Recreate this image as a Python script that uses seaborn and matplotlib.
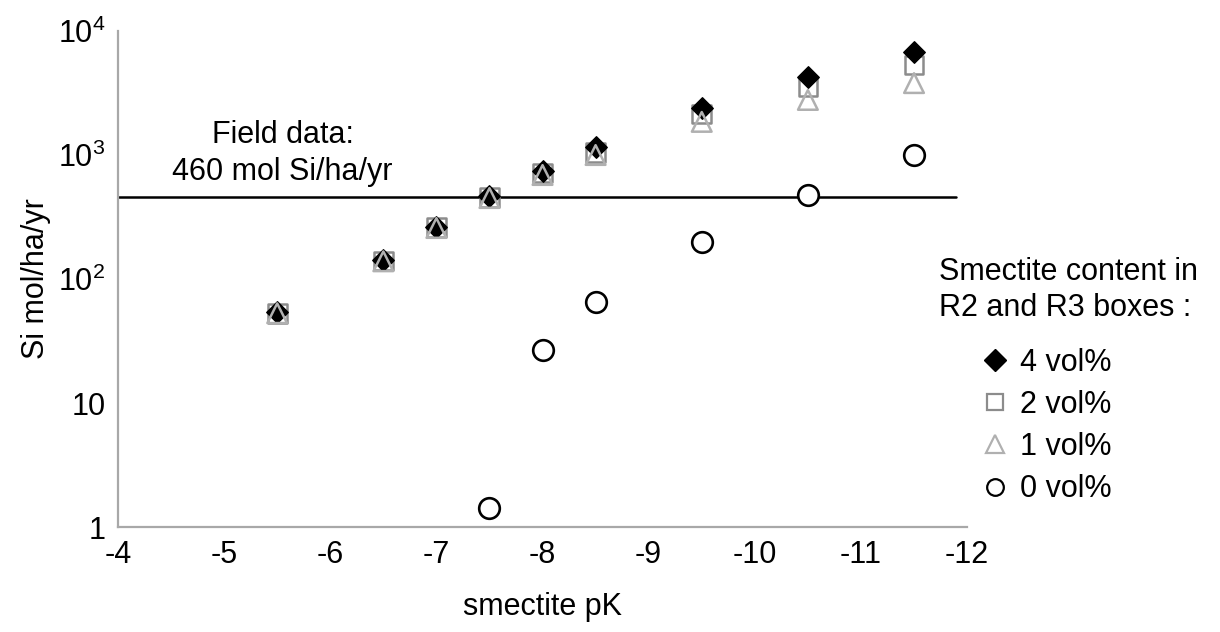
import pandas as pd
import seaborn as sns
import matplotlib.pyplot as plt
from matplotlib.lines import Line2D

# smectite pK values
pk = [-5.5, -6.5, -7.0, -7.5, -8.0, -8.5, -9.5, -10.5, -11.5]

# Si flux (mol/ha/yr) for each smectite content
si_4 = [54, 142, 263, 465, 745, 1160, 2400, 4250, 6800]
si_2 = [53, 140, 260, 455, 715, 1050, 2140, 3530, 5300]
si_1 = [53, 139, 258, 450, 690, 1000, 1850, 2780, 3800]
pk_0 = [-7.5, -8.0, -8.5, -9.5, -10.5, -11.5]
si_0 = [1.42, 27, 65, 199, 480, 1000]

field_value = 460
series_labels = ["4 vol%", "2 vol%", "1 vol%", "0 vol%"]

sns.set_style("white")
plt.rcParams["font.family"] = ["Liberation Sans", "DejaVu Sans"]
plt.rcParams["mathtext.fontset"] = "custom"
plt.rcParams["mathtext.rm"] = "Liberation Sans"
plt.rcParams["axes.unicode_minus"] = False
plt.rcParams["text.color"] = "black"
plt.rcParams["axes.labelcolor"] = "black"
plt.rcParams["xtick.color"] = "black"
plt.rcParams["ytick.color"] = "black"

df4 = pd.DataFrame({"pk": pk, "si": si_4})
df2 = pd.DataFrame({"pk": pk, "si": si_2})
df1 = pd.DataFrame({"pk": pk, "si": si_1})
df0 = pd.DataFrame({"pk": pk_0, "si": si_0})

fig = plt.figure(figsize=(12.2, 6.32), dpi=100)
ax = fig.add_axes([0.0967, 0.166, 0.696, 0.785])

ax.plot([-4, -11.9], [field_value, field_value], color="black", lw=1.8, zorder=1)

sq_c = "#8c8c8c"
tri_c = "#b0b0b0"
sns.scatterplot(data=df2, x="pk", y="si", marker="s", s=180, facecolor="none",
                edgecolor=sq_c, linewidth=1.8, ax=ax, zorder=3)
sns.scatterplot(data=df4, x="pk", y="si", marker="D", s=120, color="black",
                edgecolor="black", linewidth=1, ax=ax, zorder=4)
sns.scatterplot(data=df1, x="pk", y="si", marker="^", s=200, facecolor="none",
                edgecolor=tri_c, linewidth=1.8, ax=ax, zorder=5)
sns.scatterplot(data=df0, x="pk", y="si", marker="o", s=220, facecolor="white",
                edgecolor="black", linewidth=1.9, ax=ax, zorder=3)

ax.set_yscale("log")
ax.set_ylim(1, 1e4)
ax.set_xlim(-4, -12)
ax.set_xticks(range(-4, -13, -1))
ax.set_xticklabels([str(v) for v in range(-4, -13, -1)])
ax.set_yticks([1, 10, 100, 1000, 10000])
ax.set_yticklabels(["1", "10", r"$10^2$", r"$10^3$", r"$10^4$"])
ax.minorticks_off()

for side in ["top", "right"]:
    ax.spines[side].set_visible(False)
for side in ["left", "bottom"]:
    ax.spines[side].set_color("#a8a8a8")
    ax.spines[side].set_linewidth(1.6)
ax.tick_params(axis="both", which="major", direction="out", length=6,
               width=1.5, color="#a8a8a8", labelsize=22, pad=3)

ax.set_xlabel("smectite pK", fontsize=22)
ax.set_ylabel("Si mol/ha/yr", fontsize=22)
ax.xaxis.set_label_coords(0.5, -0.13)
ax.yaxis.set_label_coords(-0.079, 0.5)

ax.text(-5.55, 1030, "Field data:\n460 mol Si/ha/yr", ha="center", va="center",
        fontsize=22, linespacing=1.3)

handles = [
    Line2D([], [], marker="D", ls="", color="black", markersize=11),
    Line2D([], [], marker="s", ls="", markerfacecolor="none", markeredgecolor=sq_c,
           markersize=12, markeredgewidth=1.6),
    Line2D([], [], marker="^", ls="", markerfacecolor="none", markeredgecolor=tri_c,
           markersize=13, markeredgewidth=1.6),
    Line2D([], [], marker="o", ls="", markerfacecolor="white", markeredgecolor="black",
           markersize=12, markeredgewidth=1.6),
]
fig.text(0.770, 0.541, "Smectite content in\nR2 and R3 boxes :", ha="left",
         va="center", fontsize=22, linespacing=1.25)
leg = fig.legend(handles, series_labels, loc="upper left",
                 bbox_to_anchor=(0.803, 0.450), frameon=False, fontsize=22,
                 handletextpad=0.33, labelspacing=0.4, handlelength=1.0,
                 borderpad=0, borderaxespad=0)

fig.savefig("out.png", dpi=100)
